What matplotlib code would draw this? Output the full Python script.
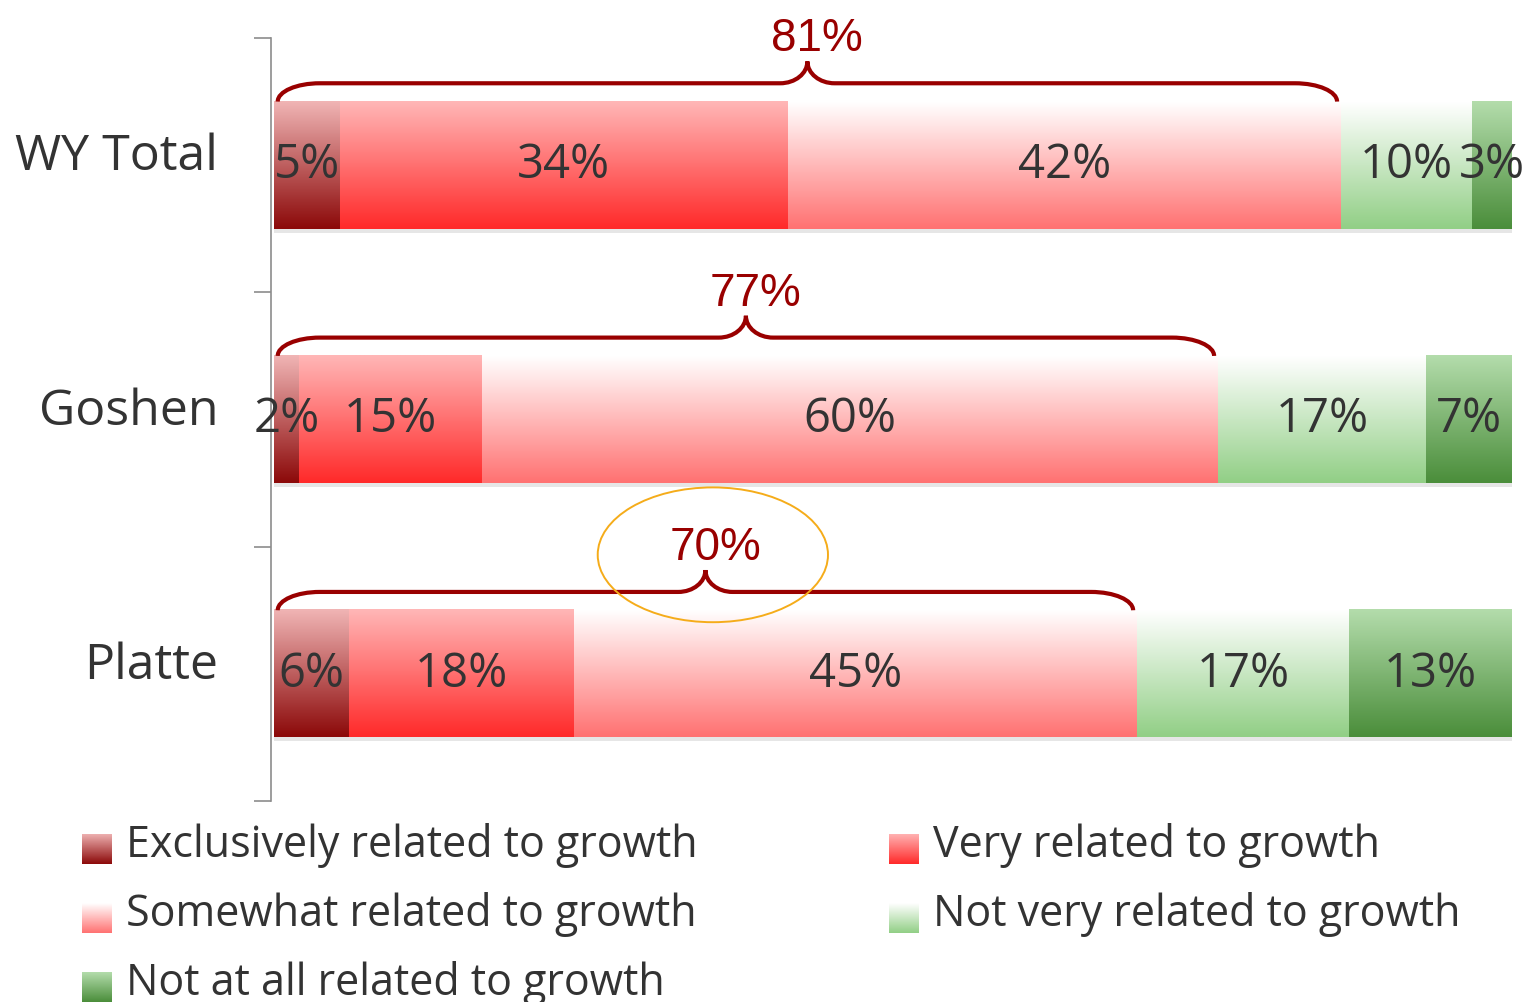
import numpy as np
import matplotlib
matplotlib.use("Agg")
import matplotlib.pyplot as plt
from matplotlib.path import Path
from matplotlib.patches import PathPatch, Ellipse
from matplotlib.colors import LinearSegmentedColormap, to_rgb
from matplotlib.transforms import blended_transform_factory

# ---- data ----
regions = ["WY Total", "Goshen", "Platte"]
categories = ["Exclusively related to growth", "Very related to growth",
              "Somewhat related to growth", "Not very related to growth",
              "Not at all related to growth"]
exclusively = [5, 2, 6]
very = [34, 15, 18]
somewhat = [42, 60, 45]
not_very = [10, 17, 17]
not_at_all = [3, 7, 13]
related_totals = ["81%", "77%", "70%"]

# gradient (top, bottom) for each category
grad_colors = [
    ("#f0b4b4", "#8c0a0a"),
    ("#ffb6b6", "#ff2a2a"),
    ("#ffffff", "#ff7272"),
    ("#ffffff", "#92cf86"),
    ("#b3dcab", "#4b8e3b"),
]

text_col = "#333333"
brace_col = "#990000"
main_font = "Open Sans"

series = np.array([exclusively, very, somewhat, not_very, not_at_all], dtype=float)
shares = series / series.sum(axis=0) * 100

fig = plt.figure(figsize=(15.34, 10.02), dpi=100)
ax = fig.add_axes([274 / 1534, 1 - 801 / 1002, 1238 / 1534, 763 / 1002])

y = np.arange(len(regions))
bar_h = 0.5
left = np.zeros(len(regions))


def gradient_img(top, bottom, n=64):
    cmap = LinearSegmentedColormap.from_list("g", [to_rgb(top), to_rgb(bottom)])
    return cmap(np.linspace(0, 1, n))[:, None, :]


for k, cat in enumerate(categories):
    bars = ax.barh(y, shares[k], left=left, height=bar_h, color="none", zorder=2)
    img = gradient_img(*grad_colors[k])
    for b in bars:
        x0, y0, w, h = b.get_x(), b.get_y(), b.get_width(), b.get_height()
        # soft shadow under the bar
        ax.fill_between([x0, x0 + w], y0 + h, y0 + h + 0.016, color="#c8c8c8",
                        alpha=0.45, lw=0, zorder=1)
        ax.imshow(img, extent=(x0, x0 + w, y0 + h, y0), aspect="auto",
                  interpolation="bilinear", zorder=2)
    for i, b in enumerate(bars):
        ax.text(b.get_x() + b.get_width() / 2, y[i], f"{int(series[k, i])}%",
                ha="center", va="center", fontsize=34, color=text_col,
                family=main_font, zorder=4)
    left = left + shares[k]

# curly braces over the "related" part (first three categories)
cum3 = shares[:3].sum(axis=0)
kk = 0.552
for i in range(len(regions)):
    x0 = 0.3
    x1 = cum3[i] - 0.3
    xm = (x0 + x1) / 2
    yb = y[i] - bar_h / 2
    yl = yb - 0.072
    yt = yb - 0.158
    rx0 = 3.4
    rxm = 2.2
    verts = [
        (x0, yb),
        (x0, yb + kk * (yl - yb)), (x0 + rx0 * (1 - kk), yl), (x0 + rx0, yl),
        (xm - rxm, yl),
        (xm - rxm * (1 - kk), yl), (xm, yt + kk * (yl - yt)), (xm, yt),
        (xm, yt + kk * (yl - yt)), (xm + rxm * (1 - kk), yl), (xm + rxm, yl),
        (x1 - rx0, yl),
        (x1 - rx0 * (1 - kk), yl), (x1, yb + kk * (yl - yb)), (x1, yb),
    ]
    codes = [Path.MOVETO,
             Path.CURVE4, Path.CURVE4, Path.CURVE4,
             Path.LINETO,
             Path.CURVE4, Path.CURVE4, Path.CURVE4,
             Path.CURVE4, Path.CURVE4, Path.CURVE4,
             Path.LINETO,
             Path.CURVE4, Path.CURVE4, Path.CURVE4]
    ax.add_patch(PathPatch(Path(verts, codes), fill=False, ec=brace_col, lw=3,
                           capstyle="butt", zorder=5))
    ax.annotate(related_totals[i], (xm, yt), xytext=(7, 0), textcoords="offset points",
                ha="center", va="bottom", fontsize=33, color=brace_col,
                family="Liberation Sans", zorder=6)
    if i == len(regions) - 1:
        ax.add_patch(Ellipse((xm + 0.6, yt - 0.06), 18.6, 0.53, fill=False,
                             ec="#f5ac1a", lw=1.4, zorder=6, clip_on=False))

ax.set_xlim(0, 100)
ax.set_ylim(len(regions) - 0.5, -0.5)

# axis: only the left spine with boundary ticks
for s in ["top", "right", "bottom"]:
    ax.spines[s].set_visible(False)
ax.spines["left"].set_color("#8c8c8c")
ax.spines["left"].set_linewidth(1.2)
ax.spines["left"].set_position(("outward", 2))
ax.set_xticks([])
ax.set_yticks(np.arange(-0.5, len(regions), 1.0))
ax.set_yticklabels([])
ax.tick_params(axis="y", length=12, width=1.2, color="#8c8c8c")

tr = blended_transform_factory(ax.transAxes, ax.transData)
for i, r in enumerate(regions):
    ax.text(-0.045, y[i] - 0.03, r, transform=tr, ha="right", va="center",
            fontsize=36, color=text_col, family=main_font)

# legend with gradient swatches
leg_pos = [(82, 857), (889, 857), (82, 926), (889, 926), (82, 995)]
for (px, py), k in zip(leg_pos, range(len(categories))):
    sw = fig.add_axes([px / 1534, 1 - (py + 7) / 1002, 30 / 1534, 30 / 1002])
    sw.imshow(gradient_img(*grad_colors[k]), aspect="auto", interpolation="bilinear")
    sw.set_axis_off()
    fig.text((px + 44) / 1534, 1 - py / 1002, categories[k], ha="left", va="baseline",
             fontsize=31, color=text_col, family=main_font)

fig.savefig("out.png", dpi=100)
